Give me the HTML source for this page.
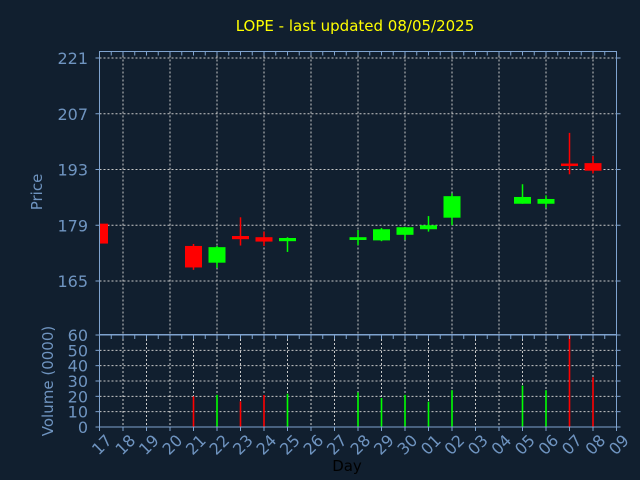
<!DOCTYPE html>
<html><head><meta charset="utf-8"><style>
body{margin:0;background:#111f2f;}
svg{display:block;font-family:"DejaVu Sans","Liberation Sans",sans-serif;}
</style></head><body>
<svg width="640" height="480">
<rect width="640" height="480" fill="#111f2f"/>
<text x="355" y="31" fill="#ffff00" font-size="15" text-anchor="middle">LOPE - last updated 08/05/2025</text>
<g id="grid"></g><g id="marks"></g><g id="axes"></g>
<text transform="translate(42,192) rotate(-90)" fill="#6f94c0" font-size="15" text-anchor="middle">Price</text>
<text transform="translate(53,381) rotate(-90)" fill="#6f94c0" font-size="15" text-anchor="middle">Volume (0000)</text>
<text x="347" y="471" fill="#000" font-size="15" text-anchor="middle">Day</text>
</svg>
<script>
const dayLabels=["17","18","19","20","21","22","23","24","25","26","27","28","29","30","01","02","03","04","05","06","07","08","09"];
const candleIdx=[0,4,5,6,7,8,11,12,13,14,15,18,19,20,21];
const opens=[179.4,173.8,169.6,176.3,176.0,175.0,175.3,175.2,176.6,178.0,180.9,184.4,184.4,194.5,194.6];
const closes=[174.4,168.4,173.5,175.5,174.9,175.8,176.0,178.0,178.5,179.0,186.3,186.1,185.6,194.0,192.7];
const highs=[179.4,174.3,173.8,181.0,177.4,176.0,177.8,178.3,178.6,181.3,187.0,189.3,186.5,202.2,196.4];
const lows=[174.4,167.8,168.3,173.9,173.8,172.3,174.0,175.0,175.3,177.4,179.0,184.4,183.4,191.8,192.0];
const volumes=[0,20,21,16.7,20.9,21.7,22.6,18.9,21,16.5,24,27,24,60,32.4];
const priceTicks=[165,179,193,207,221];
const volTicks=[0,10,20,30,40,50,60];
const L=99.5,R=616.5,PT=51.5,PB=334.5,VT=335,VB=427;
const x=i=>L+i*(R-L)/22;
const yP=p=>58+(221-p)*(281-58)/56;
const yV=v=>VB-(v/60)*(VB-VT);
const NS="http://www.w3.org/2000/svg";
function mk(t,a,p){const e=document.createElementNS(NS,t);for(const k in a)e.setAttribute(k,a[k]);p.appendChild(e);return e;}
const G=document.getElementById('grid'),M=document.getElementById('marks'),A=document.getElementById('axes');
const gc="#c8c8c8",ac="#7fa3cf",tc="#6f94c0";
for(const p of priceTicks){const e=mk('line',{x1:L,x2:R,y1:yP(p),y2:yP(p),stroke:gc,'stroke-dasharray':'2,2'},G);


const t=mk('text',{x:88,y:yP(p)+6,fill:tc,'font-size':16,'text-anchor':'end'},A);t.textContent=p;

}
for(let i=1;i<22;i+=2){const e=mk('line',{x1:x(i),x2:x(i),y1:PT,y2:PB,stroke:gc,'stroke-dasharray':'2,2'},G);

}
for(const v of volTicks){if(v>0&&v<60){const e=mk('line',{x1:L,x2:R,y1:yV(v),y2:yV(v),stroke:gc,'stroke-dasharray':'2,2'},G);

}
const t=mk('text',{x:88,y:yV(v)+6,fill:tc,'font-size':16,'text-anchor':'end'},A);t.textContent=v;

}
dayLabels.forEach((d,i)=>{if(i>0&&i<22){const e=mk('line',{x1:x(i),x2:x(i),y1:VT,y2:VB,stroke:gc,'stroke-dasharray':'2,2'},G);

}
const t=mk('text',{transform:`translate(${x(i)+5},${VB+6}) rotate(-45)`,fill:tc,'font-size':16,'text-anchor':'end','dominant-baseline':'hanging'},A);t.textContent=d;


mk('line',{x1:x(i),x2:x(i),y1:VB,y2:VB+4,stroke:ac},A);});
const cg=mk('g',{'clip-path':'url(#cp)'},M);
const cp=mk('clipPath',{id:'cp'},M);mk('rect',{x:L,y:PT,width:R-L,height:PB-PT},cp);
candleIdx.forEach((ci,k)=>{const cx=x(ci),up=closes[k]>=opens[k],col=up?'#00ff00':'#ff0000';
const w=mk('line',{x1:cx,x2:cx,y1:yP(highs[k]),y2:yP(lows[k]),stroke:col,'stroke-width':1.5},cg);


const t=yP(Math.max(opens[k],closes[k])),b=yP(Math.min(opens[k],closes[k]));
const r=mk('rect',{x:cx-8.5,y:t,width:17,height:Math.max(b-t,2.5),fill:col},cg);


if(volumes[k]>0){const v=mk('line',{x1:cx,x2:cx,y1:yV(volumes[k]),y2:VB,stroke:col,'stroke-width':1.6},M);

}});
const f1=mk('rect',{x:L,y:PT,width:R-L,height:PB-PT,fill:'none',stroke:ac},A);


const f2=mk('rect',{x:L,y:VT,width:R-L,height:VB-VT,fill:'none',stroke:ac},A);


for(const p of priceTicks){mk('line',{x1:L-4,x2:L,y1:yP(p),y2:yP(p),stroke:ac},A);mk('line',{x1:R,x2:R+4,y1:yP(p),y2:yP(p),stroke:ac},A);}
for(const v of volTicks){mk('line',{x1:L-4,x2:L,y1:yV(v),y2:yV(v),stroke:ac},A);mk('line',{x1:R,x2:R+4,y1:yV(v),y2:yV(v),stroke:ac},A);}
for(let i=0;i<=44;i++){const xx=L+i*(R-L)/44;mk('line',{x1:xx,x2:xx,y1:PT,y2:PT+4,stroke:ac},A);mk('line',{x1:xx,x2:xx,y1:VT,y2:VT+4,stroke:ac},A);}
</script>
</body></html>
